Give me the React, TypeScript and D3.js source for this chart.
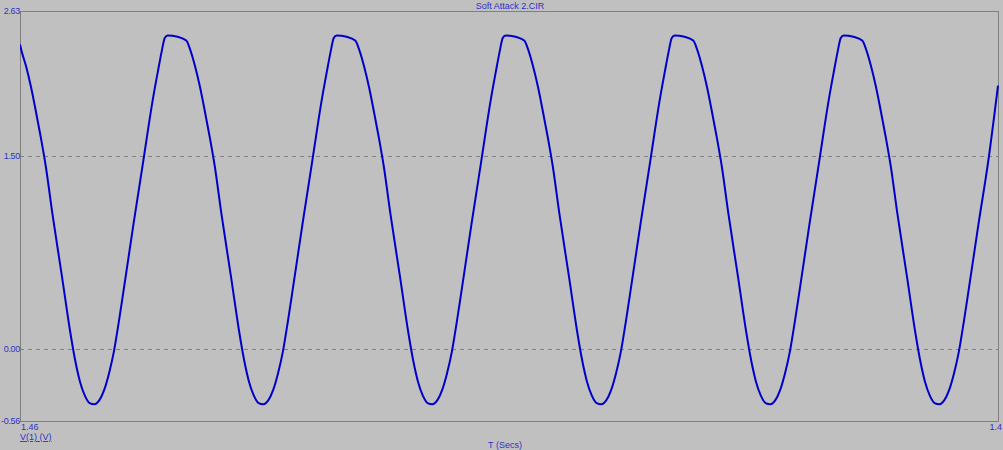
import React, { useEffect, useRef } from "react";
import * as d3 from "d3";

const title = "Soft Attack 2.CIR";
const yTickValues = [2.63, 1.5, 0.0, -0.56];
const yTickLabels = ["2.63", "1.50", "0.00", "-0.56"];
const gridValues = [1.5, 0.0];
const xStartLabel = "1.46";
const xEndLabel = "1.4";
const xAxisTitle = "T (Secs)";
const yAxisTitle = "V(1) (V)";
const xDomain = [1460, 1470]; // ms
const yDomain = [-0.56, 2.63];

const timeMs = [
  1460.000, 1460.012, 1460.062, 1460.112, 1460.162, 1460.212, 1460.262, 1460.332, 1460.432, 1460.512, 1460.562, 1460.612, 1460.662, 1460.712,
  1460.760, 1460.810, 1460.860, 1460.910, 1460.960, 1461.010, 1461.060, 1461.160, 1461.260, 1461.360, 1461.410, 1461.450, 1461.480, 1461.510, 1461.610, 1461.700, 1461.740, 1461.790, 1461.840, 1461.890, 1461.940, 1461.990, 1462.060, 1462.160, 1462.240, 1462.290, 1462.340, 1462.390, 1462.440,
  1462.488, 1462.538, 1462.588, 1462.638, 1462.688, 1462.738, 1462.788, 1462.888, 1462.988, 1463.088, 1463.138, 1463.178, 1463.208, 1463.238, 1463.338, 1463.428, 1463.468, 1463.518, 1463.568, 1463.618, 1463.668, 1463.718, 1463.788, 1463.888, 1463.968, 1464.018, 1464.068, 1464.118, 1464.168,
  1464.216, 1464.266, 1464.316, 1464.366, 1464.416, 1464.466, 1464.516, 1464.616, 1464.716, 1464.816, 1464.866, 1464.906, 1464.936, 1464.966, 1465.066, 1465.156, 1465.196, 1465.246, 1465.296, 1465.346, 1465.396, 1465.446, 1465.516, 1465.616, 1465.696, 1465.746, 1465.796, 1465.846, 1465.896,
  1465.944, 1465.994, 1466.044, 1466.094, 1466.144, 1466.194, 1466.244, 1466.344, 1466.444, 1466.544, 1466.594, 1466.634, 1466.664, 1466.694, 1466.794, 1466.884, 1466.924, 1466.974, 1467.024, 1467.074, 1467.124, 1467.174, 1467.244, 1467.344, 1467.424, 1467.474, 1467.524, 1467.574, 1467.624,
  1467.672, 1467.722, 1467.772, 1467.822, 1467.872, 1467.922, 1467.972, 1468.072, 1468.172, 1468.272, 1468.322, 1468.362, 1468.392, 1468.422, 1468.522, 1468.612, 1468.652, 1468.702, 1468.752, 1468.802, 1468.852, 1468.902, 1468.972, 1469.072, 1469.152, 1469.202, 1469.252, 1469.302, 1469.352,
  1469.400, 1469.450, 1469.500, 1469.550, 1469.600, 1469.650, 1469.700, 1469.800, 1469.900, 1470.000,
];

const voltage = [
  2.37, 2.33, 2.20, 2.04, 1.85, 1.65, 1.43, 1.05, 0.55, 0.14, -0.08, -0.25, -0.36, -0.42,
  -0.43, -0.40, -0.32, -0.19, -0.02, 0.21, 0.46, 0.97, 1.46, 1.95, 2.16, 2.32, 2.42, 2.44, 2.43, 2.40, 2.33, 2.20, 2.04, 1.85, 1.65, 1.43, 1.05, 0.55, 0.14, -0.08, -0.25, -0.36, -0.42,
  -0.43, -0.40, -0.32, -0.19, -0.02, 0.21, 0.46, 0.97, 1.46, 1.95, 2.16, 2.32, 2.42, 2.44, 2.43, 2.40, 2.33, 2.20, 2.04, 1.85, 1.65, 1.43, 1.05, 0.55, 0.14, -0.08, -0.25, -0.36, -0.42,
  -0.43, -0.40, -0.32, -0.19, -0.02, 0.21, 0.46, 0.97, 1.46, 1.95, 2.16, 2.32, 2.42, 2.44, 2.43, 2.40, 2.33, 2.20, 2.04, 1.85, 1.65, 1.43, 1.05, 0.55, 0.14, -0.08, -0.25, -0.36, -0.42,
  -0.43, -0.40, -0.32, -0.19, -0.02, 0.21, 0.46, 0.97, 1.46, 1.95, 2.16, 2.32, 2.42, 2.44, 2.43, 2.40, 2.33, 2.20, 2.04, 1.85, 1.65, 1.43, 1.05, 0.55, 0.14, -0.08, -0.25, -0.36, -0.42,
  -0.43, -0.40, -0.32, -0.19, -0.02, 0.21, 0.46, 0.97, 1.46, 1.95, 2.16, 2.32, 2.42, 2.44, 2.43, 2.40, 2.33, 2.20, 2.04, 1.85, 1.65, 1.43, 1.05, 0.55, 0.14, -0.08, -0.25, -0.36, -0.42,
  -0.43, -0.40, -0.32, -0.19, -0.02, 0.21, 0.46, 0.97, 1.46, 2.05,
];

const W = 1003;
const H = 450;
const left = 20;
const right = 998;
const top = 11;
const bottom = 421;
const textColor = "#3030c8";
const lineColor = "#0000c8";
const frameColor = "#7f7f7f";
const bg = "#c0c0c0";
const font = "'Liberation Sans', Arial, sans-serif";

export default function App() {
  const ref = useRef<SVGSVGElement>(null);

  useEffect(() => {
    const svg = d3.select(ref.current);
    svg.selectAll("*").remove();

    const x = d3.scaleLinear().domain(xDomain).range([left, right]);
    const y = d3.scaleLinear().domain(yDomain).range([bottom, top]);

    svg.append("rect").attr("x", 0).attr("y", 0).attr("width", W).attr("height", H).attr("fill", bg);

    svg
      .selectAll("line.grid")
      .data(gridValues)
      .enter()
      .append("line")
      .attr("x1", left)
      .attr("x2", right)
      .attr("y1", (d) => Math.round(y(d)) + 0.5)
      .attr("y2", (d) => Math.round(y(d)) + 0.5)
      .attr("stroke", "#808080")
      .attr("stroke-width", 1)
      .attr("stroke-dasharray", "4,4");

    svg
      .append("rect")
      .attr("x", left + 0.5)
      .attr("y", top + 0.5)
      .attr("width", right - left)
      .attr("height", bottom - top)
      .attr("fill", "none")
      .attr("stroke", frameColor)
      .attr("stroke-width", 1);

    svg
      .append("clipPath")
      .attr("id", "plotclip")
      .append("rect")
      .attr("x", left)
      .attr("y", top)
      .attr("width", right - left + 1)
      .attr("height", bottom - top);

    const pts = timeMs.map((t, i) => [t, voltage[i]] as [number, number]);
    const line = d3
      .line<[number, number]>()
      .x((d) => x(d[0]))
      .y((d) => y(d[1]))
      .curve(d3.curveMonotoneX);

    svg
      .append("path")
      .attr("d", line(pts) as string)
      .attr("fill", "none")
      .attr("stroke", lineColor)
      .attr("stroke-width", 2)
      .attr("stroke-linejoin", "round")
      .attr("clip-path", "url(#plotclip)");

    svg
      .selectAll("text.ylab")
      .data(yTickValues)
      .enter()
      .append("text")
      .attr("x", left)
      .attr("y", (d) => y(d))
      .attr("dy", "0.35em")
      .attr("text-anchor", "end")
      .attr("fill", textColor)
      .attr("font-family", font)
      .attr("font-size", 9)
      .attr("letter-spacing", -0.3)
      .text((_d, i) => yTickLabels[i]);

    svg
      .append("text")
      .attr("x", left + 1)
      .attr("y", 430)
      .attr("fill", textColor)
      .attr("font-family", font)
      .attr("font-size", 9)
      .text(xStartLabel);
    svg
      .append("text")
      .attr("x", 1002)
      .attr("y", 430)
      .attr("text-anchor", "end")
      .attr("fill", textColor)
      .attr("font-family", font)
      .attr("font-size", 9)
      .text(xEndLabel);

    svg
      .append("text")
      .attr("x", left)
      .attr("y", 440)
      .attr("fill", textColor)
      .attr("font-family", font)
      .attr("font-size", 9)
      .attr("text-decoration", "underline")
      .text(yAxisTitle);

    svg
      .append("text")
      .attr("x", 505)
      .attr("y", 448)
      .attr("text-anchor", "middle")
      .attr("fill", textColor)
      .attr("font-family", font)
      .attr("font-size", 9)
      .text(xAxisTitle);

    svg
      .append("text")
      .attr("x", 510)
      .attr("y", 9)
      .attr("text-anchor", "middle")
      .attr("fill", textColor)
      .attr("font-family", font)
      .attr("font-size", 9)
      .text(title);
  }, []);

  return (
    <svg
      ref={ref}
      width={W}
      height={H}
      style={{ position: "absolute", left: 0, top: 0, display: "block" }}
    />
  );
}
